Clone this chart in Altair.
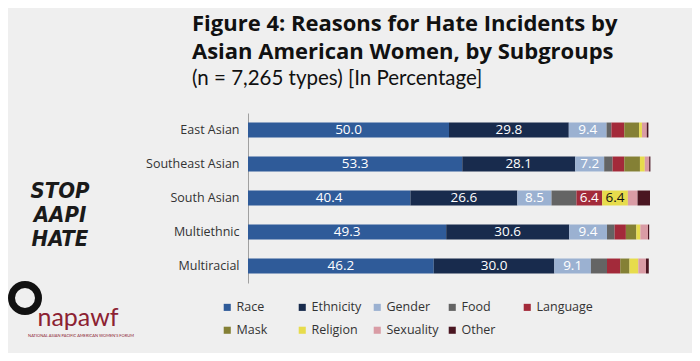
import altair as alt
import pandas as pd

groups = ["East Asian", "Southeast Asian", "South Asian", "Multiethnic", "Multiracial"]
categories = ["Race", "Ethnicity", "Gender", "Food", "Language", "Mask", "Religion", "Sexuality", "Other"]
race = [50.0, 53.3, 40.4, 49.3, 46.2]
ethnicity = [29.8, 28.1, 26.6, 30.6, 30.0]
gender = [9.4, 7.2, 8.5, 9.4, 9.1]
food = [1.2, 2.1, 6.2, 1.9, 4.0]
language = [3.2, 2.9, 6.4, 2.8, 3.3]
mask = [3.7, 3.9, 0.0, 2.6, 2.3]
religion = [0.7, 1.2, 6.4, 1.0, 2.2]
sexuality = [1.2, 1.1, 2.4, 1.9, 1.9]
other = [0.4, 0.3, 3.1, 0.3, 0.7]
colors = ["#2f5b99", "#182b4d", "#9bb1d1", "#646464", "#a32a3a",
          "#848035", "#e7dc4c", "#d99ca5", "#4a1621"]

series = [race, ethnicity, gender, food, language, mask, religion, sexuality, other]
rows = []
for ci, (cat, vals) in enumerate(zip(categories, series)):
    for g, v in zip(groups, vals):
        rows.append({"group": g, "category": cat, "order": ci, "value": v})
df = pd.DataFrame(rows)

FONT = "Open Sans"

base = alt.Chart(df).transform_stack(
    stack="value", groupby=["group"], sort=[alt.SortField("order")], as_=["x0", "x1"]
).transform_calculate(mid="(datum.x0 + datum.x1) / 2")

yenc = alt.Y(
    "group:N", sort=groups, title=None,
    scale=alt.Scale(paddingInner=0.56, paddingOuter=0.28),
    axis=alt.Axis(ticks=False, labelPadding=9, domainColor="#a0a0a0", domainWidth=1,
                  labelFontSize=12.5, labelColor="#333333", labelFont=FONT),
)

bars = base.mark_bar().encode(
    x=alt.X("x0:Q", scale=alt.Scale(domain=[0, 100]), axis=None),
    x2="x1:Q",
    y=yenc,
    color=alt.Color(
        "category:N", scale=alt.Scale(domain=categories, range=colors),
        legend=alt.Legend(
            title=None, orient="none", legendX=-27, legendY=188, direction="horizontal",
            columns=5, gridAlign="all", symbolType="square", symbolSize=50,
            symbolStrokeWidth=0, labelFontSize=12.5, labelFont=FONT, labelColor="#333333",
            rowPadding=10, columnPadding=3, labelOffset=3, padding=0,
        ),
    ),
)

labels = base.transform_filter("datum.value >= 6.4").mark_text(
    fontSize=13.5, font=FONT, baseline="middle", align="center"
).encode(
    x=alt.X("mid:Q", scale=alt.Scale(domain=[0, 100]), axis=None),
    y=alt.Y("group:N", sort=groups),
    text=alt.Text("value:Q", format=".1f"),
    color=alt.condition(alt.datum.category == "Religion", alt.value("#111111"), alt.value("#ffffff")),
)

one = pd.DataFrame({"k": [0]})
stop_logo = [
    alt.Chart(one).mark_text(text=t, x=-188, y=yy, fontSize=22, fontWeight="bold",
                             fontStyle="italic", font="DejaVu Sans Condensed", color="#1a1a1a",
                             align="center", baseline="middle")
    for t, yy in [("STOP", 78), ("AAPI", 102), ("HATE", 126)]
]
ring = alt.Chart(one).mark_point(shape="circle", filled=False, stroke="#111111",
                                 strokeWidth=7, size=729, x=-223, y=185, opacity=1)
napawf = alt.Chart(one).mark_text(text="napawf", x=-170, y=213, fontSize=25, font="Lato",
                                  color="#8c2232", align="center", baseline="alphabetic")
forum = alt.Chart(one).mark_text(text="NATIONAL ASIAN PACIFIC AMERICAN WOMEN'S FORUM", x=-167, y=223,
                                 fontSize=4, font="Lato", color="#8c2232", align="center",
                                 baseline="middle")

chart = alt.layer(bars, labels, *stop_logo, ring, napawf, forum).properties(
    width=402, height=170,
    autosize=alt.AutoSizeParams(type="none"),
    padding={"left": 240, "top": 105, "right": 42, "bottom": 70},
    background="#efefef",
    title=alt.Title(
        ["Figure 4: Reasons for Hate Incidents by", "Asian American Women, by Subgroups"],
        subtitle="(n = 7,265 types) [In Percentage]",
        anchor="start", frame="group", dx=-56, offset=23,
        font=FONT, fontSize=22, fontWeight="bold", color="#111111", lineHeight=28,
        subtitleFont="Lato", subtitleFontSize=20.5, subtitleColor="#111111", subtitlePadding=5,
    ),
).configure_view(stroke=None)

chart.save("out.html", embed_options={"renderer": "svg", "actions": False})
